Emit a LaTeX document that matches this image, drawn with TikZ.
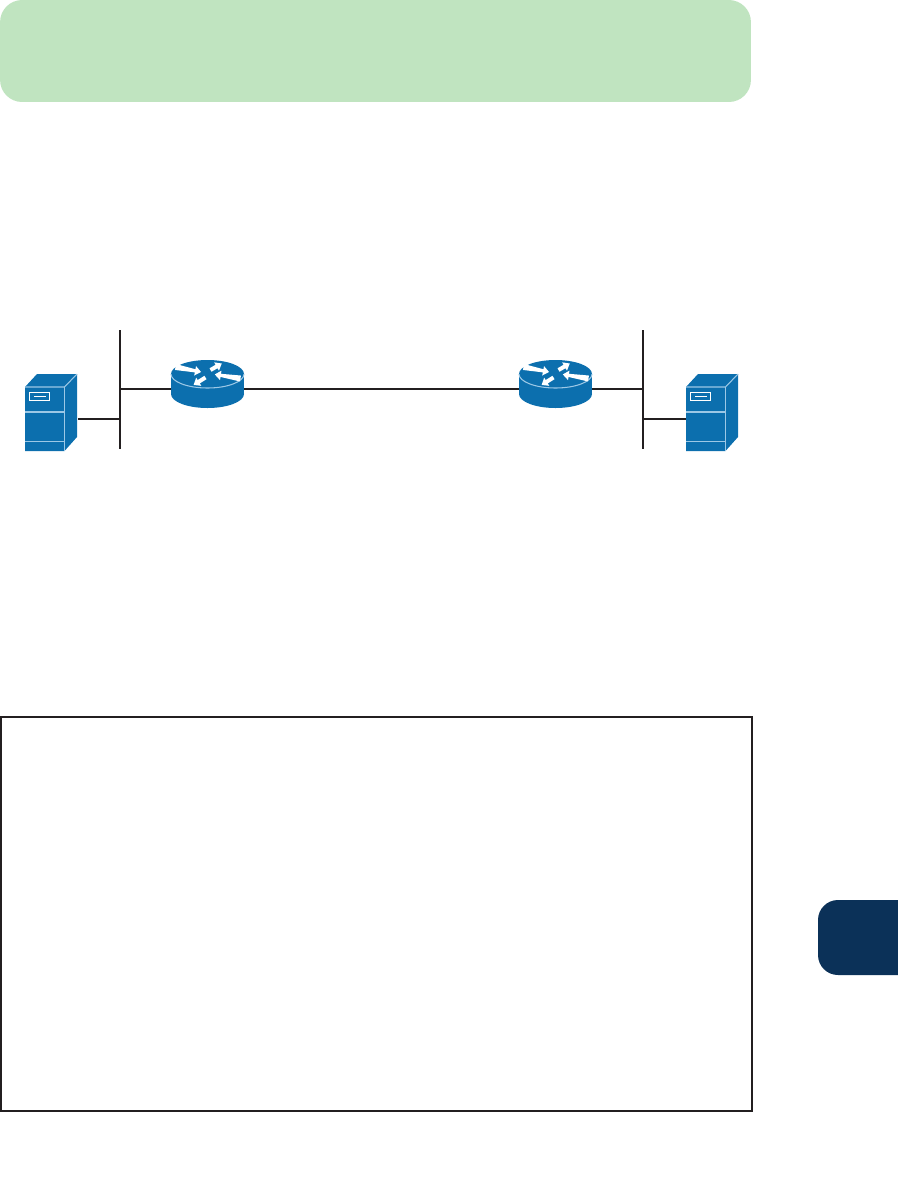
\documentclass[tikz,border=0pt]{standalone}
\usepackage{xcolor}
\usetikzlibrary{positioning, calc}
\definecolor{ciscoblue}{HTML}{0C6FAE}
\definecolor{edgeblue}{HTML}{9CC8E6}
\definecolor{bannergreen}{HTML}{C0E4C0}
\definecolor{tabnavy}{HTML}{0B3158}
\definecolor{wireblack}{HTML}{231F20}
\begin{document}
\begin{tikzpicture}[
    x=0.02cm, y=-0.02cm,
    banner/.style={rectangle, fill=bannergreen, rounded corners=0.44cm, minimum width=15.02cm, minimum height=2.04cm, inner sep=0pt},
    framebox/.style={rectangle, draw=wireblack, line width=1.1pt, minimum width=15.02cm, minimum height=7.88cm, inner sep=0pt},
    bus/.style={rectangle, fill=wireblack, minimum width=0.04cm, minimum height=2.38cm, inner sep=0pt},
    routerbox/.style={rectangle, minimum width=1.46cm, minimum height=0.76cm, inner sep=0pt},
    serverbox/.style={rectangle, minimum width=1.06cm, minimum height=1.28cm, inner sep=0pt},
    wire/.style={draw=wireblack, line width=1.1pt},
    edge/.style={draw=edgeblue, line width=0.6pt}
]
    \useasboundingbox (0,0) rectangle (897,1194);

    % Banner, frame and tab
    \node[banner] (banner) at (375.5,51) {};
    \node[framebox] (frame) at (376.5,914) {};
    \fill[tabnavy, rounded corners=0.4cm] (930,900) -- (818,900) -- (818,975) -- (930,975) -- cycle;

    % Buses
    \node[bus] (busA) at (120,389.5) {};
    \node[bus] (busB) at (643,389.5) {};

    % Routers
    \foreach \rname/\rx in {routerA/207.5, routerB/555.5} {
        \node[routerbox] (\rname) at (\rx,389) {};
        \begin{scope}[shift={(\rx,374)}]
            \fill[ciscoblue] (-36.5,0) rectangle (36.5,20);
            \fill[ciscoblue] (0,20) ellipse [x radius=36.5, y radius=14];
            \fill[ciscoblue] (0,0) ellipse [x radius=36.5, y radius=14];
            \draw[edge] (-36.5,0) arc [start angle=180, end angle=0, x radius=36.5, y radius=14];
            % Arrows on the lid
            \foreach \ax/\ay/\ang/\len/\tail/\neck in {-32/-7/-11/26/3/1.6, 3/-4/30/13/2/2, 33/4.5/171/26/3/1.6, -2/3.5/212/14/2/2} {
                \fill[white, shift={(\ax,\ay)}, rotate=\ang] (0,-\tail) -- (\len-6,-\neck) -- (\len-6,-4.8) -- (\len,0) -- (\len-6,4.8) -- (\len-6,\neck) -- (0,\tail) -- cycle;
            }
        \end{scope}
    }

    % Servers
    \foreach \sname/\sx in {serverA/51.5, serverB/712.5} {
        \node[serverbox] (\sname) at (\sx,419) {};
        \begin{scope}[shift={(\sx-26.5,387)}]
            \fill[ciscoblue] (0,0) -- (12,-13) -- (52,-13) -- (52,50) -- (39.5,64) -- (0,64) -- cycle;
            \draw[edge] (0,0) -- (39.5,0) -- (52,-13);
            \draw[edge] (39.5,0) -- (39.5,64);
            \draw[edge] (0,25) -- (39.5,25);
            \draw[edge] (0,54.5) -- (39.5,54.5);
            \draw[draw=white, line width=0.6pt] (4.5,5.5) rectangle (24.5,13.5);
            \draw[draw=white, line width=0.5pt] (9,9.5) -- (21,9.5);
        \end{scope}
    }

    % Links
    \draw[wire] (routerA.west) -- (routerA.west -| busA);
    \draw[wire] (routerA.east) -- (routerB.west);
    \draw[wire] (routerB.east) -- (routerB.east -| busB);
    \draw[wire] (serverA.east) -- (serverA.east -| busA);
    \draw[wire] (serverB.west) -- (serverB.west -| busB);
\end{tikzpicture}
\end{document}
